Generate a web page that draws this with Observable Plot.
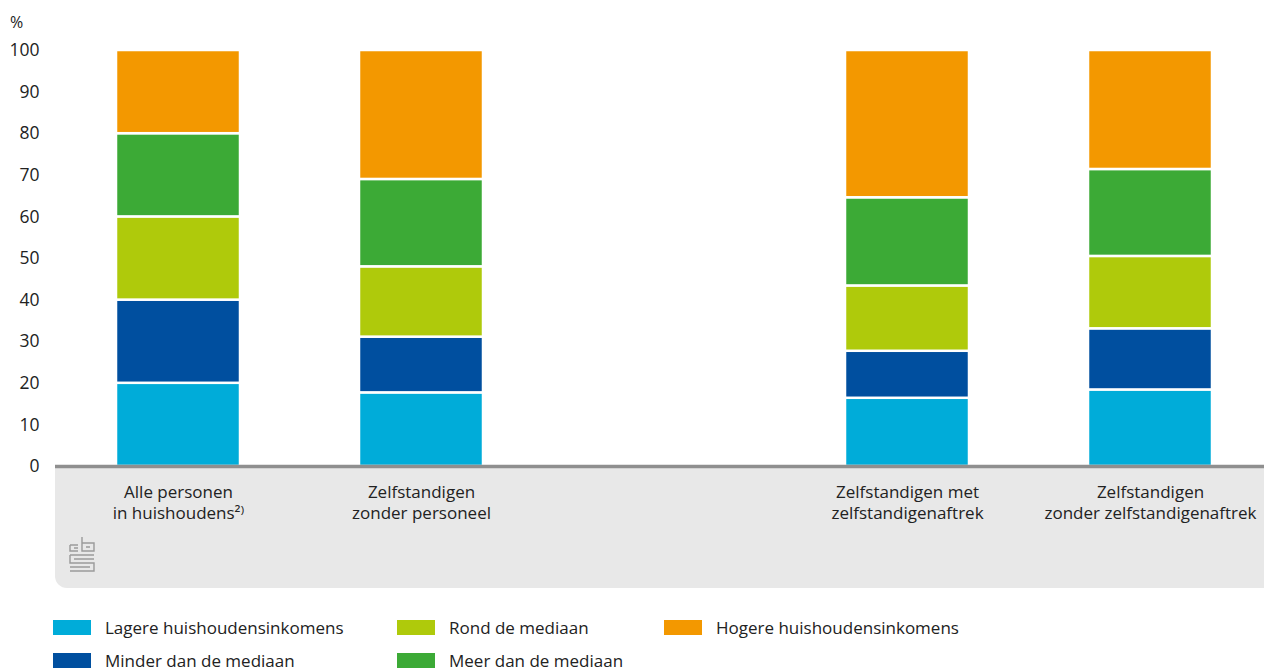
<!DOCTYPE html>
<html>
<head>
<meta charset="utf-8">
<script src="https://cdn.jsdelivr.net/npm/d3@7"></script>
<script src="https://cdn.jsdelivr.net/npm/@observablehq/plot@0.6"></script>
<style>
  html, body { margin: 0; padding: 0; background: #fff; overflow: hidden; }
  body { font-family: "Open Sans", sans-serif; width: 1264px; height: 670px; position: relative; }
  #panel { position: absolute; left: 55px; top: 467px; width: 1209px; height: 121px; background: #e8e8e8; border-bottom-left-radius: 12px; }
  #chart { position: absolute; left: 0; top: 0; }
  #unit { position: absolute; left: 10px; top: 11px; font-size: 16px; color: #222; }
  #logo { position: absolute; left: 69px; top: 536px; }
  #legend { position: absolute; left: 53px; top: 619px; display: grid; grid-template-rows: 17px 17px; grid-auto-flow: column; grid-template-columns: 344px 267px 400px; row-gap: 16px; font-size: 17px; line-height: 17px; color: #222; }
  .item { display: flex; align-items: center; height: 17px; white-space: nowrap; }
  .sw { width: 38px; height: 15px; margin-right: 14px; flex: none; }
</style>
</head>
<body>
<div id="panel"></div>
<div id="chart"></div>
<div id="unit">%</div>
<svg id="logo" width="28" height="38" viewBox="0 0 28 38" fill="none" stroke="#9a9a9a" stroke-width="1.4">
  <path d="M1 9 H9 M1 9 V15 H9 M5 12 H9"/>
  <path d="M13 1 V15 H25 V7 H13 M17 11 H21"/>
  <path d="M1 19 H25 M1 19 V27 H25 V35 H1 M5 23 H25 M1 31 H21"/>
</svg>
<div id="legend"></div>
<script>
const categories = ["Alle personen\nin huishoudens²⁾", "Zelfstandigen\nzonder personeel", "gap", "Zelfstandigen met\nzelfstandigenaftrek", "Zelfstandigen\nzonder zelfstandigenaftrek"];
const series = ["Lagere huishoudensinkomens", "Minder dan de mediaan", "Rond de mediaan", "Meer dan de mediaan", "Hogere huishoudensinkomens"];
const colors = ["#00acd9", "#004f9f", "#afca0b", "#3caa36", "#f39800"];
const allePersonen = [20, 20, 20, 20, 20];
const zzp = [17.7, 13.4, 16.9, 21.0, 31.0];
const metAftrek = [16.4, 11.3, 15.7, 21.2, 35.4];
const zonderAftrek = [18.4, 14.7, 17.4, 20.9, 28.6];
const yTicks = [0, 10, 20, 30, 40, 50, 60, 70, 80, 90, 100];

const groups = [[categories[0], allePersonen], [categories[1], zzp], [categories[3], metAftrek], [categories[4], zonderAftrek]];
const data = groups.flatMap(([cat, vals]) => vals.map((v, i) => ({cat, series: series[i], value: v})));

const chart = Plot.plot({
  width: 1264,
  height: 590,
  marginTop: 50,
  marginBottom: 124,
  marginLeft: 55,
  marginRight: 0,
  style: {fontFamily: "Open Sans, sans-serif", fontSize: "17px", color: "#222", background: "transparent"},
  x: {domain: categories, range: [53, 1276], paddingInner: 0.4877, paddingOuter: 0.25},
  y: {domain: [0, 100]},
  color: {domain: series, range: colors},
  marks: [
    Plot.gridY(yTicks, {x1: 55, x2: 1264, stroke: "#9a9a9a", strokeOpacity: 1, strokeWidth: 1.2}),
    Plot.barY(data, {x: "cat", y: "value", fill: "series", stroke: "white", strokeWidth: 2.5, order: series}),
    Plot.ruleY([0], {stroke: "#8f8f8f", strokeWidth: 3.5}),
    Plot.axisY({ticks: yTicks, tickSize: 0, tickPadding: 16, fontSize: 17.5, label: null}),
    Plot.axisX({ticks: categories.filter(c => c !== "gap"), tickSize: 0, tickPadding: 17, fontSize: 17, lineHeight: 1.22, label: null})
  ]
});
document.getElementById("chart").appendChild(chart);

const legend = document.getElementById("legend");
series.forEach((s, i) => {
  const item = document.createElement("div");
  item.className = "item";
  const sw = document.createElement("span");
  sw.className = "sw";
  sw.style.background = colors[i];
  const t = document.createElement("span");
  t.textContent = s;
  item.appendChild(sw);
  item.appendChild(t);
  legend.appendChild(item);
});
</script>
</body>
</html>
